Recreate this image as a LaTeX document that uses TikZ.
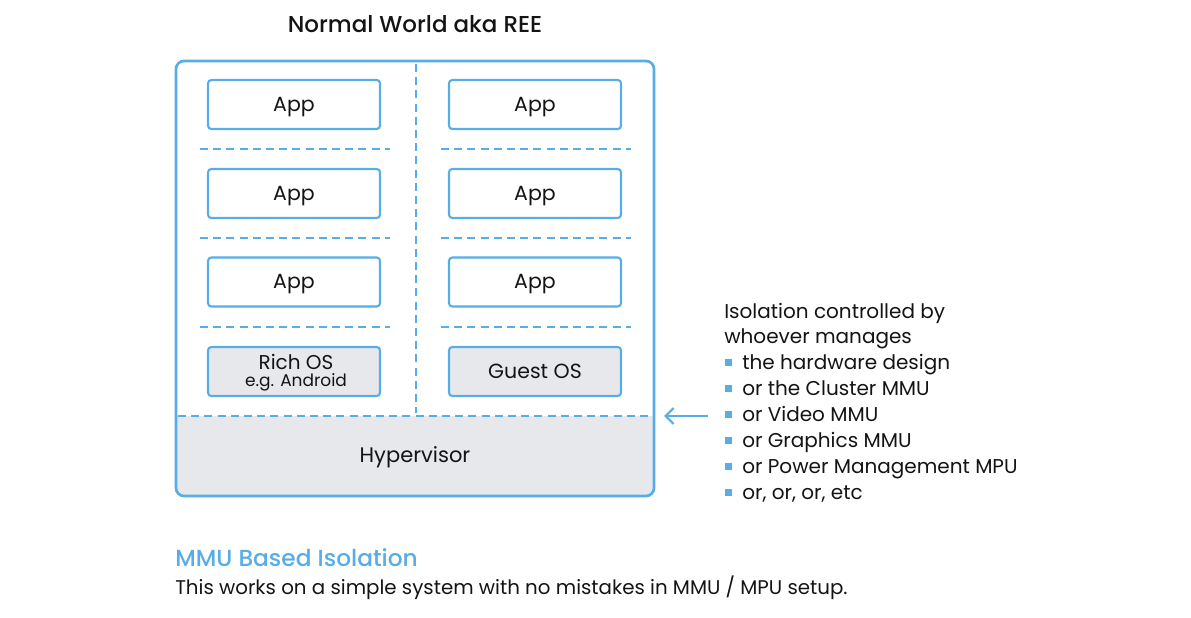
\documentclass[tikz,border=0pt]{standalone}
\usepackage{fontspec}
\setmainfont{Poppins}
\newfontfamily\pmed{Poppins Medium}
\usetikzlibrary{arrows.meta}
\definecolor{bl}{HTML}{58ADE6}
\definecolor{gy}{HTML}{E6E8EB}
\definecolor{tx}{HTML}{141414}
\newcommand\fpx[1]{\fontsize{\dimexpr #1pt*3/4\relax}{\dimexpr #1pt*9/10\relax}\selectfont}
\tikzset{
  box/.style={draw=bl, line width=1.6pt, rounded corners=2.5pt, minimum width=129pt,
    minimum height=36.75pt, inner sep=0pt, text=tx, font=\fpx{20.5},
    text height=11pt, text depth=1.25pt},
  osbox/.style={box, fill=gy},
  sep/.style={draw=bl, line width=2.1pt, dash pattern=on 6pt off 3.9pt},
  lst/.style={anchor=base west, inner sep=0pt, text=tx, font=\fpx{20}},
  bul/.style={fill=bl},
  lbl/.style={anchor=base, inner sep=0pt, text=tx},
}
\begin{document}
\begin{tikzpicture}[x=0.75pt,y=-0.75pt]
\useasboundingbox (0,0) rectangle (1191,617);
\node[lbl, font=\pmed\fpx{23}] (title) at (415,33) {Normal World aka REE};
\begin{scope}
\clip[rounded corners=6pt] (176,61) rectangle (654,496);
\fill[gy] (176,416) rectangle (654,496);
\end{scope}
\node[draw=bl, line width=2pt, rounded corners=6pt, minimum width=358.5pt,
  minimum height=326.25pt, inner sep=0pt] (outer) at (415,278.5) {};
% separators
\draw[sep] (416,64) -- (416,413);
\draw[sep] (178,416) -- (652,416);
\foreach \y in {149,238,327}{
  \draw[sep] (200,\y) -- (390,\y);
  \draw[sep] (441,\y) -- (631,\y);
}
% boxes
\node[box] (a1) at (294,104.5) {App};
\node[box] (a2) at (294,193.5) {App};
\node[box] (a3) at (294,282) {App};
\node[osbox] (ros) at (294,371.5) {};
\node[lbl, font=\fpx{20}] (rost) at (296,369) {Rich OS};
\node[lbl, font=\fpx{17}] (rosb) at (296,386) {e.g. Android};
\node[box] (b1) at (535,104.5) {App};
\node[box] (b2) at (535,193.5) {App};
\node[box] (b3) at (535,282) {App};
\node[osbox] (gos) at (535,371.5) {Guest OS};
\node[lbl, font=\fpx{21}] (hv) at (415,462) {Hypervisor};
% arrow
\coordinate (arrS) at (708,416);
\coordinate (arrE) at (664,416);
\draw[bl, line width=1.6pt, -{Straight Barb[length=6pt,width=12pt]}] (arrS) -- (arrE);
% list
\node[lst] (l1) at (724,318) {Isolation controlled by};
\node[lst] (l2) at (724,343) {whoever manages};
\foreach \t [count=\i from 0] in {the hardware design,or the Cluster MMU,or Video MMU,or Graphics MMU,or Power Management MPU,{or, or, or, etc}}{
  \fill[bul] (725,{359+26*\i}) rectangle (732,{366+26*\i});
  \node[lst] (li\i) at (742,{369+26*\i}) {\t};
}
% caption
\node[anchor=base west, inner sep=0pt, text=bl, font=\pmed\fpx{23.3}] (head) at (175,566) {MMU Based Isolation};
\node[anchor=base west, inner sep=0pt, text=tx, font=\fpx{19.8}] (cap) at (175,594) {This works on a simple system with no mistakes in MMU / MPU setup.};
\end{tikzpicture}
\end{document}
